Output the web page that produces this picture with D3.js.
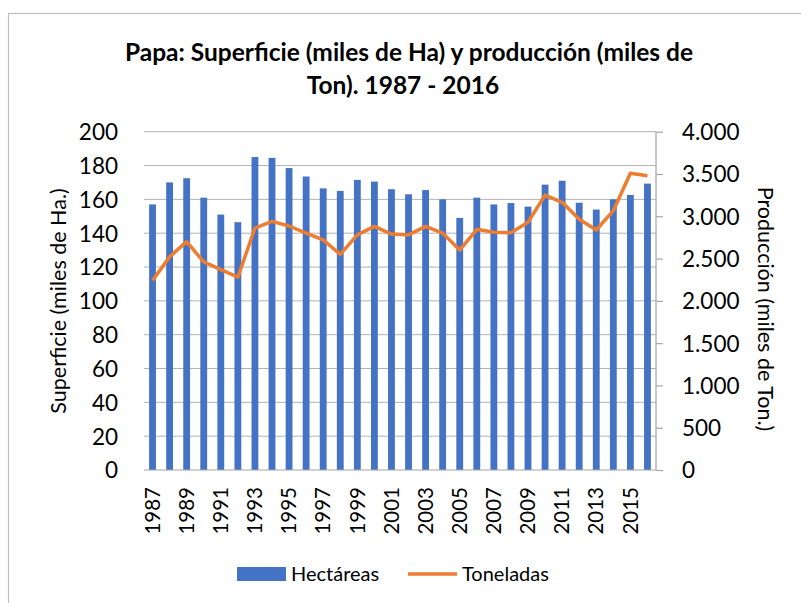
<!DOCTYPE html>
<html><head><meta charset="utf-8">
<script src="https://cdn.jsdelivr.net/npm/d3@7"></script>
<style>body{margin:0;background:#fff}svg{display:block}text{font-family:Lato,"Open Sans",sans-serif;fill:#000}</style>
</head><body>
<script>
const years = d3.range(1987, 2017).map(String);
const hectareas = [157,170,172.5,161,151,146.5,185,184.5,178.5,173.5,166.5,165,171.5,170.5,166,163,165.5,160,149,161,157,157.8,155.7,168.7,171,158,154,160,162.6,169.3];
const toneladas = [2240,2520,2700,2460,2370,2280,2860,2940,2885,2800,2720,2550,2780,2880,2790,2780,2880,2800,2600,2846,2810,2806,2930,3250,3165,2964,2838,3066,3508,3480];
const leftTicks = [0,20,40,60,80,100,120,140,160,180,200];
const rightTicks = [0,500,1000,1500,2000,2500,3000,3500,4000];
const fmt = d => d3.format(",")(d).replace(/,/g, ".");

const W = 801, H = 603;
const svg = d3.select("body").append("svg").attr("width", W).attr("height", H);
svg.append("rect").attr("x", 8.5).attr("y", 13.5).attr("width", 900).attr("height", 700)
  .attr("fill", "none").attr("stroke", "#bfbfbf").attr("stroke-width", 1.2);

const x0 = 144, x1 = 656, yTop = 131.7, yBot = 470;
const x = d3.scaleBand().domain(years).range([x0, x1]).paddingInner(0.6).paddingOuter(0.3);
const yL = d3.scaleLinear().domain([0, 200]).range([yBot, yTop]);
const yR = d3.scaleLinear().domain([0, 4000]).range([yBot, yTop]);

// title
const title = svg.append("text").attr("text-anchor", "middle").attr("font-weight", "bold").attr("font-size", 24.5);
title.append("tspan").attr("x", 409).attr("y", 61).text("Papa: Superficie (miles de Ha) y producción (miles de");
title.append("tspan").attr("x", 403).attr("y", 94).text("Ton). 1987 - 2016");

// gridlines
svg.append("g").selectAll("line").data(leftTicks.slice(1)).join("line")
  .attr("x1", x0).attr("x2", x1).attr("y1", d => yL(d)).attr("y2", d => yL(d))
  .attr("stroke", "#b3b3b3").attr("stroke-width", 1);

// left axis labels
const gL = svg.append("g").attr("transform", `translate(${x0},0)`)
  .call(d3.axisLeft(yL).tickValues(leftTicks).tickSize(0).tickPadding(26));
gL.select(".domain").remove();
gL.selectAll("text").attr("font-size", 22.5).attr("font-family", "Lato,'Open Sans',sans-serif").attr("dy", "0.35em");

// bars
svg.append("g").selectAll("rect").data(years).join("rect")
  .attr("x", d => x(d)).attr("width", x.bandwidth())
  .attr("y", (d, i) => yL(hectareas[i])).attr("height", (d, i) => yBot - yL(hectareas[i]))
  .attr("fill", "#4472C4");

// bottom axis line
svg.append("line").attr("x1", x0).attr("x2", x1).attr("y1", yBot).attr("y2", yBot)
  .attr("stroke", "#a6a6a6").attr("stroke-width", 1.2);

// right axis
const gR = svg.append("g").attr("transform", `translate(${x1},0)`)
  .call(d3.axisRight(yR).tickValues(rightTicks).tickSize(7).tickPadding(19).tickFormat(fmt));
gR.select(".domain").attr("stroke", "#a6a6a6").attr("stroke-width", 1.2).attr("d", `M0,${yTop}V${yBot}`);
gR.selectAll(".tick line").attr("stroke", "#a6a6a6").attr("stroke-width", 1.2);
gR.selectAll("text").attr("font-size", 22.5).attr("font-family", "Lato,'Open Sans',sans-serif").attr("dy", "0.35em");

// line
const cx = d => x(d) + x.bandwidth() / 2;
svg.append("path").datum(years)
  .attr("d", d3.line().x(d => cx(d)).y((d, i) => yR(toneladas[i])))
  .attr("fill", "none").attr("stroke", "#ED7D31").attr("stroke-width", 3.5).attr("stroke-linejoin", "round");

// x labels
svg.append("g").selectAll("text").data(years.filter((d, i) => i % 2 === 0)).join("text")
  .attr("transform", d => `translate(${cx(d)},487) rotate(-90)`)
  .attr("text-anchor", "end").attr("dy", "0.35em").attr("font-size", 20.5).text(d => d);

// axis titles
svg.append("text").attr("transform", "translate(58,301) rotate(-90)").attr("text-anchor", "middle")
  .attr("dy", "0.35em").attr("font-size", 21.5).text("Superficie (miles de Ha.)");
svg.append("text").attr("transform", "translate(766,309) rotate(90)").attr("text-anchor", "middle")
  .attr("dy", "0.35em").attr("font-size", 21.5).text("Producción (miles de Ton.)");

// legend
svg.append("rect").attr("x", 237).attr("y", 567).attr("width", 49).attr("height", 14).attr("fill", "#4472C4");
svg.append("text").attr("x", 291).attr("y", 574).attr("dy", "0.35em").attr("font-size", 20).text("Hectáreas");
svg.append("line").attr("x1", 408).attr("x2", 457).attr("y1", 574).attr("y2", 574)
  .attr("stroke", "#ED7D31").attr("stroke-width", 3.5);
svg.append("text").attr("x", 462).attr("y", 574).attr("dy", "0.35em").attr("font-size", 20).text("Toneladas");
</script>
</body></html>
